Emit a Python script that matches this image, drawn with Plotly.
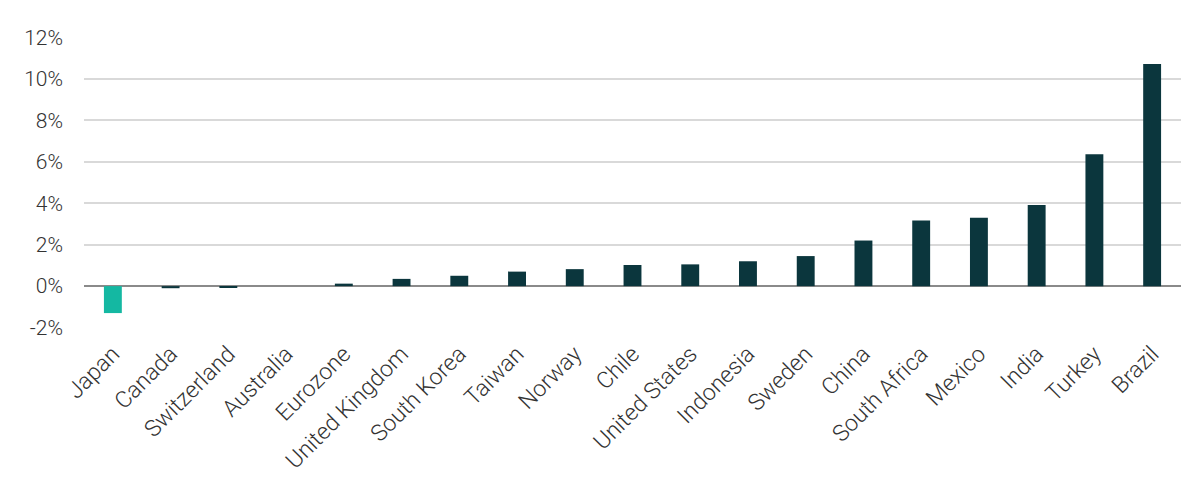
import plotly.graph_objects as go

countries = ["Japan", "Canada", "Switzerland", "Australia", "Eurozone", "United Kingdom",
             "South Korea", "Taiwan", "Norway", "Chile", "United States", "Indonesia",
             "Sweden", "China", "South Africa", "Mexico", "India", "Turkey", "Brazil"]
values = [-1.3, -0.1, -0.05, 0.0, 0.12, 0.35, 0.5, 0.7, 0.82, 1.02, 1.05, 1.2,
          1.45, 2.2, 3.17, 3.3, 3.92, 6.36, 10.72]
y_ticks = [-2, 0, 2, 4, 6, 8, 10, 12]
y_labels = ["-2%", "0%", "2%", "4%", "6%", "8%", "10%", "12%"]

colors = ["#14b8a2" if c == "Japan" else "#0b363d" for c in countries]

fig = go.Figure(go.Bar(x=countries, y=values, marker=dict(color=colors, line=dict(width=0)),
                       width=0.31))

xfont = dict(family="Roboto, Liberation Sans, sans-serif", size=23, color="#333333", weight=300)
yfont = dict(family="Roboto, Liberation Sans, sans-serif", size=21, color="#333333", weight=300)
# note: page body has an 8px margin, so margins are shifted to compensate
fig.update_layout(
    width=1203, height=483,
    margin=dict(l=76, r=30, t=29, b=163),
    plot_bgcolor="white", paper_bgcolor="white",
    showlegend=False,
    font=xfont,
    xaxis=dict(tickangle=-45, showgrid=False, showline=False, ticks="", tickfont=xfont,
               automargin=False, ticklabelstandoff=7),
    yaxis=dict(range=[-2.02, 12.02], tickvals=y_ticks, ticktext=y_labels, showgrid=True,
               gridcolor="#d9d9d9", gridwidth=1.5, zeroline=True, zerolinecolor="#8a8a8a",
               zerolinewidth=2, showline=False, ticks="", ticklabelstandoff=20, tickfont=yfont,
               automargin=False),
)
fig.write_html("out.html")
